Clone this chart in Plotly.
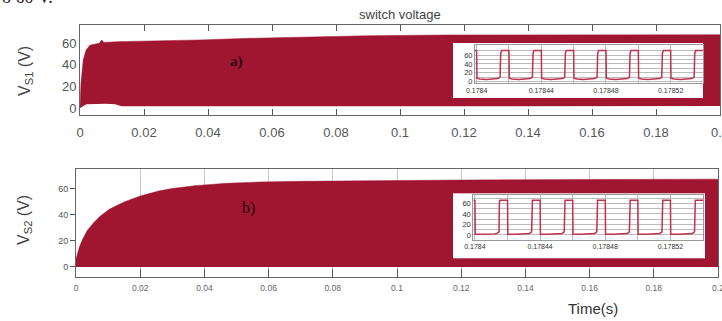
import plotly.graph_objects as go

W, H = 722, 321

# ---------------- data ----------------
# top panel (VS1) envelope of the switching waveform
t1_upper = [0, 0.0003, 0.001, 0.0019, 0.0031, 0.0045, 0.006, 0.0068, 0.0075, 0.0115,
            0.022, 0.0375, 0.053, 0.07, 0.09, 0.115, 0.15, 0.2]
v1_upper = [0, 22.8, 44, 53.5, 58, 59.2, 59.8, 62.8, 60.5, 61.2,
            61.8, 62.8, 64.3, 65.6, 66.7, 67.4, 67.5, 67.6]
t1_lower = [0, 0.0005, 0.002, 0.008, 0.011, 0.013, 0.05, 0.1, 0.15, 0.2]
v1_lower = [0, 1.0, 3.5, 4.0, 3.5, 1.5, 1.5, 1.8, 1.8, 1.8]

# bottom panel (VS2) envelope
t2_upper = [0, 0.001, 0.002, 0.0035, 0.0055, 0.0075, 0.0105, 0.015, 0.02, 0.026,
            0.03, 0.037, 0.047, 0.057, 0.07, 0.09, 0.12, 0.16, 0.2]
v2_upper = [6, 15, 21, 28, 34, 39, 44.5, 50, 54.5, 58.5,
            60.3, 62.5, 64.3, 65.3, 65.8, 66.3, 66.8, 67.2, 67.5]
t2_lower = [0, 0.05, 0.1, 0.15, 0.2]
v2_lower = [0, 0, 0, 0, 0]

# zoomed insets (switching pulses)
ins1_t = [0.1783990, 0.1784000, 0.1784002, 0.1784020, 0.1784060, 0.1784110, 0.1784130, 0.1784145, 0.1784149, 0.1784155,
          0.1784200, 0.1784202, 0.1784220, 0.1784260, 0.1784310, 0.1784330, 0.1784345, 0.1784349, 0.1784355,
          0.1784400, 0.1784402, 0.1784420, 0.1784460, 0.1784510, 0.1784530, 0.1784545, 0.1784549, 0.1784555,
          0.1784600, 0.1784602, 0.1784620, 0.1784660, 0.1784710, 0.1784730, 0.1784745, 0.1784749, 0.1784755,
          0.1784800, 0.1784802, 0.1784820, 0.1784860, 0.1784910, 0.1784930, 0.1784945, 0.1784949, 0.1784955,
          0.1785000, 0.1785002, 0.1785020, 0.1785060, 0.1785110, 0.1785130, 0.1785145, 0.1785149, 0.1785155,
          0.1785200, 0.1785202, 0.1785220, 0.1785260, 0.1785310, 0.1785330, 0.1785345, 0.1785349, 0.1785355,
          0.1785400]
ins1_v = [70, 70, 8, 6, 5, 5.5, 7, 10, 64, 70,
          70, 8, 6, 5, 5.5, 7, 10, 64, 70,
          70, 8, 6, 5, 5.5, 7, 10, 64, 70,
          70, 8, 6, 5, 5.5, 7, 10, 64, 70,
          70, 8, 6, 5, 5.5, 7, 10, 64, 70,
          70, 8, 6, 5, 5.5, 7, 10, 64, 70,
          70, 8, 6, 5, 5.5, 7, 10, 64, 70,
          70]

ins2_t = [0.1783990, 0.1784000, 0.1784002, 0.1784050, 0.1784120, 0.1784135, 0.1784148, 0.1784150, 0.1784153,
          0.1784200, 0.1784202, 0.1784250, 0.1784320, 0.1784335, 0.1784348, 0.1784350, 0.1784353,
          0.1784400, 0.1784402, 0.1784450, 0.1784520, 0.1784535, 0.1784548, 0.1784550, 0.1784553,
          0.1784600, 0.1784602, 0.1784650, 0.1784720, 0.1784735, 0.1784748, 0.1784750, 0.1784753,
          0.1784800, 0.1784802, 0.1784850, 0.1784920, 0.1784935, 0.1784948, 0.1784950, 0.1784953,
          0.1785000, 0.1785002, 0.1785050, 0.1785120, 0.1785135, 0.1785148, 0.1785150, 0.1785153,
          0.1785200, 0.1785202, 0.1785250, 0.1785320, 0.1785335, 0.1785348, 0.1785350, 0.1785353,
          0.1785400]
ins2_v = [66, 66, 1.5, 1.5, 1.8, 3, 6, 60, 66,
          66, 1.5, 1.5, 1.8, 3, 6, 60, 66,
          66, 1.5, 1.5, 1.8, 3, 6, 60, 66,
          66, 1.5, 1.5, 1.8, 3, 6, 60, 66,
          66, 1.5, 1.5, 1.8, 3, 6, 60, 66,
          66, 1.5, 1.5, 1.8, 3, 6, 60, 66,
          66, 1.5, 1.5, 1.8, 3, 6, 60, 66,
          66]

main_tickvals = [0, 0.02, 0.04, 0.06, 0.08, 0.1, 0.12, 0.14, 0.16, 0.18, 0.2]
main_ticktext = ["0", "0.02", "0.04", "0.06", "0.08", "0.1", "0.12", "0.14", "0.16", "0.18", "0.2"]
y_tickvals = [0, 20, 40, 60]
y_ticktext = ["0", "20", "40", "60"]
ins_xtickvals = [0.17840, 0.17842, 0.17844, 0.17846, 0.17848, 0.17850, 0.17852]
ins_xticktext = ["0.1784", "", "0.17844", "", "0.17848", "", "0.17852"]
ins_ytickvals = [0, 10, 20, 30, 40, 50, 60, 70]
ins_yticktext = ["0", "", "20", "", "40", "", "60", ""]

FILL = "#A01530"
LINE = "#C2304E"

# ---------------- helpers for pixel layout ----------------
def xd(a, b):
    return [a / W, b / W]

def yd(top, bottom):
    return [1 - bottom / H, 1 - top / H]

fig = go.Figure()

# top panel band
fig.add_trace(go.Scatter(x=t1_lower, y=v1_lower, mode="lines", line=dict(width=0, color=FILL),
                         xaxis="x", yaxis="y", showlegend=False, hoverinfo="skip"))
fig.add_trace(go.Scatter(x=t1_upper, y=v1_upper, mode="lines", line=dict(width=0.5, color=FILL),
                         fill="tonexty", fillcolor=FILL, xaxis="x", yaxis="y", showlegend=False))
# bottom panel band
fig.add_trace(go.Scatter(x=t2_lower, y=v2_lower, mode="lines", line=dict(width=0, color=FILL),
                         xaxis="x2", yaxis="y2", showlegend=False, hoverinfo="skip"))
fig.add_trace(go.Scatter(x=t2_upper, y=v2_upper, mode="lines", line=dict(width=0.5, color=FILL),
                         fill="tonexty", fillcolor=FILL, xaxis="x2", yaxis="y2", showlegend=False))
# white boxes behind insets (empty subplots with own background)
fig.add_trace(go.Scatter(x=[], y=[], xaxis="x3", yaxis="y3", showlegend=False))
fig.add_trace(go.Scatter(x=ins1_t, y=ins1_v, mode="lines", line=dict(width=1.5, color=LINE),
                         xaxis="x4", yaxis="y4", showlegend=False))
fig.add_trace(go.Scatter(x=[], y=[], xaxis="x5", yaxis="y5", showlegend=False))
fig.add_trace(go.Scatter(x=ins2_t, y=ins2_v, mode="lines", line=dict(width=1.5, color=LINE),
                         xaxis="x6", yaxis="y6", showlegend=False))

sans = "Liberation Sans, Arial, sans-serif"

main_x = dict(range=[0, 0.2], tickvals=main_tickvals, ticktext=main_ticktext, showline=True,
              linecolor="#666", linewidth=1, zeroline=False, tickcolor="#555", automargin=False,
              ticklabeloverflow="allow")
main_y = dict(tickvals=y_tickvals, ticktext=y_ticktext, showline=True, mirror=True,
              linecolor="#666", linewidth=1, zeroline=False, showgrid=False, automargin=False)

inset_x = dict(tickvals=ins_xtickvals, ticktext=ins_xticktext, showline=True, mirror=True,
               linecolor="#999", linewidth=1, showgrid=True, gridcolor="#bbb", gridwidth=1,
               zeroline=False, ticks="", tickfont=dict(size=7, color="#333", family=sans),
               range=[0.178399, 0.17854], automargin=False)
inset_y = dict(tickvals=ins_ytickvals, ticktext=ins_yticktext, showline=True, mirror=True,
               linecolor="#999", linewidth=1, showgrid=True, gridcolor="#bbb", gridwidth=1,
               zeroline=False, ticks="", tickfont=dict(size=7.5, color="#333", family=sans),
               automargin=False)

fig.update_layout(
    width=W, height=H,
    margin=dict(l=0, r=0, t=0, b=0, autoexpand=False),
    paper_bgcolor="white", plot_bgcolor="white",
    xaxis=dict(main_x, domain=xd(80, 720), anchor="y", mirror="ticks", ticks="inside", ticklen=6,
               showgrid=False, tickfont=dict(size=13, color="#555", family=sans), ticklabelstandoff=5),
    yaxis=dict(main_y, domain=yd(25, 115), anchor="x", range=[-6.5, 76.6], ticks="",
               tickfont=dict(size=13, color="#555", family=sans)),
    xaxis2=dict(main_x, domain=xd(76, 718), anchor="y2", mirror=True, ticks="inside", ticklen=8,
                showgrid=True, gridcolor="#c8c8c8", tickfont=dict(size=8.5, color="#666", family=sans),
                ticklabelstandoff=3),
    yaxis2=dict(main_y, domain=yd(169, 277), anchor="x2", range=[-7.7, 75.3], ticks="outside",
                ticklen=5, tickcolor="#555", tickfont=dict(size=9, color="#555", family=sans)),
    xaxis3=dict(domain=xd(453, 703), anchor="y3", visible=False, range=[0, 1]),
    yaxis3=dict(domain=yd(43, 98), anchor="x3", visible=False, range=[0, 1]),
    xaxis4=dict(inset_x, domain=xd(475, 703), anchor="y4"),
    yaxis4=dict(inset_y, domain=yd(45, 83.3), anchor="x4", range=[-3.6, 82.5]),
    xaxis5=dict(domain=xd(453, 705), anchor="y5", visible=False, range=[0, 1]),
    yaxis5=dict(domain=yd(193.3, 258.3), anchor="x5", visible=False, range=[0, 1]),
    xaxis6=dict(inset_x, domain=xd(473.3, 703), anchor="y6"),
    yaxis6=dict(inset_y, domain=yd(195, 240), anchor="x6", range=[-9.5, 75.8]),
)

def ann(text, px, py, size, color, family=sans, angle=0, xanchor="center", yanchor="middle"):
    fig.add_annotation(text=text, x=px / W, y=1 - py / H, xref="paper", yref="paper",
                       showarrow=False, textangle=angle, xanchor=xanchor, yanchor=yanchor,
                       font=dict(size=size, color=color, family=family))

ann("switch voltage", 400, 14, 13, "#444")
ann("V<sub>S1</sub> (V)", 25, 71, 16, "#444", angle=-90)
ann("V<sub>S2</sub> (V)", 24, 220, 16, "#444", angle=-90)
ann("Time(s)", 593, 308, 15, "#333")
ann("<b>a)</b>", 237, 61, 15, "#2b0710", family="Liberation Serif, serif")
ann("b)", 248, 208, 16, "#1e0509", family="Liberation Serif, serif")
ann("o 60 V.", 0, 9, 18, "#222", family="Liberation Serif, serif", xanchor="left", yanchor="bottom")

# remove the browser's default page margin so the figure sits at the window's corner
fig.write_html("out.html", config={"displayModeBar": False},
               post_script="document.body.style.margin='0';")
